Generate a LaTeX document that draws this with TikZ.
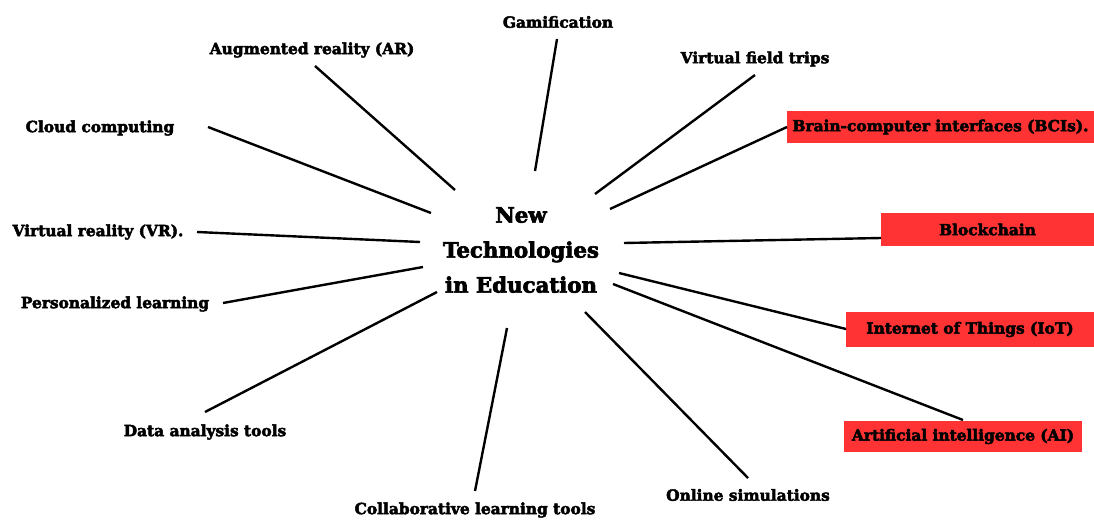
\documentclass[tikz,border=0pt]{standalone}
\usepackage{fontspec}
\setmainfont{DejaVu Serif}[BoldFeatures={FakeBold=3}]
\definecolor{hot}{RGB}{255,51,51}
\begin{document}
\begin{tikzpicture}[x=1pt,y=-1pt,
  lbl/.style={font=\bfseries\fontsize{15.4}{17}\selectfont, inner sep=0pt},
  redbox/.style={lbl, fill=hot, draw=none, anchor=center},
  spoke/.style={line width=2.4pt, black},
  hub/.style={font=\bfseries\fontsize{21.3}{35}\selectfont, align=center, inner sep=0pt}]
\useasboundingbox (0,0) rectangle (1094,524);

% central topic
\node[hub] (hub) at (521,250) {New\\Technologies\\in Education};

% plain labels
\node[lbl] (gam)   at (558,22)  {Gamification};
\node[lbl] (ar)    at (312,50)  {Augmented reality (AR)};
\node[lbl] (vft)   at (755,59)  {Virtual field trips};
\node[lbl] (cloud) at (100,128) {Cloud computing};
\node[lbl] (vr)    at (98,232)  {Virtual reality (VR).};
\node[lbl] (pers)  at (115,304) {Personalized learning};
\node[lbl] (data)  at (205,432) {Data analysis tools};
\node[lbl] (collab) at (475,510) {Collaborative learning tools};
\node[lbl] (sim)   at (748,495) {Online simulations};

% highlighted labels
\node[redbox, minimum width=307pt, minimum height=32pt] (bci)   at (940.5,127)   {Brain-computer interfaces (BCIs).};
\node[redbox, minimum width=213pt, minimum height=33pt] (block) at (987.5,229.5) {Blockchain};
\node[redbox, minimum width=248pt, minimum height=35pt] (iot)   at (970,329.5)   {Internet of Things (IoT)};
\node[redbox, minimum width=238pt, minimum height=31pt] (ai)    at (963,436.5)   {Artificial intelligence (AI)};

% spoke end points
\coordinate (gamA) at (557,39);   \coordinate (gamB) at (535,171);
\coordinate (arA) at (315,66);    \coordinate (arB) at (455,190);
\coordinate (vftA) at (755,75);   \coordinate (vftB) at (595,194);
\coordinate (cloudA) at (208,127); \coordinate (cloudB) at (431,213);
\coordinate (bciA) at (787,127);  \coordinate (bciB) at (610,209);
\coordinate (vrA) at (197,232);   \coordinate (vrB) at (420,242);
\coordinate (blockA) at (881,238); \coordinate (blockB) at (624,243);
\coordinate (persA) at (223,303); \coordinate (persB) at (423,267);
\coordinate (iotA) at (846,329);  \coordinate (iotB) at (619,273);
\coordinate (dataA) at (205,412); \coordinate (dataB) at (437,292);
\coordinate (aiA) at (963,420);   \coordinate (aiB) at (613,284);
\coordinate (collabA) at (475,491); \coordinate (collabB) at (507,328);
\coordinate (simA) at (748,478);  \coordinate (simB) at (585,312);

% spokes
\foreach \s in {gam,ar,vft,cloud,bci,vr,block,pers,iot,data,ai,collab,sim}
  \draw[spoke] (\s A) -- (\s B);
\end{tikzpicture}
\end{document}
